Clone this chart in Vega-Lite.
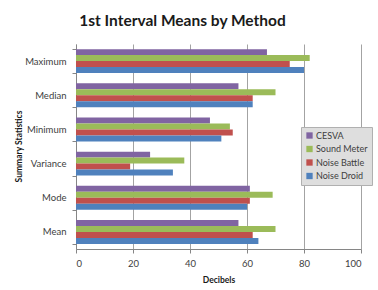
{
  "$schema": "https://vega.github.io/schema/vega-lite/v6.json",
  "width": 285,
  "height": 205,
  "autosize": "none",
  "padding": {"left": 76, "top": 44, "right": 17, "bottom": 41},
  "background": "white",
  "title": {
    "text": "1st Interval Means by Method",
    "font": "Lato",
    "fontSize": 15.5,
    "fontWeight": "bold",
    "color": "#1a1a1a",
    "anchor": "middle",
    "dx": -36,
    "offset": 10
  },
  "data": {
    "values": [
      {"stat": "Maximum", "method": "CESVA", "value": 67},
      {"stat": "Maximum", "method": "Sound Meter", "value": 82},
      {"stat": "Maximum", "method": "Noise Battle", "value": 75},
      {"stat": "Maximum", "method": "Noise Droid", "value": 80},
      {"stat": "Median", "method": "CESVA", "value": 57},
      {"stat": "Median", "method": "Sound Meter", "value": 70},
      {"stat": "Median", "method": "Noise Battle", "value": 62},
      {"stat": "Median", "method": "Noise Droid", "value": 62},
      {"stat": "Minimum", "method": "CESVA", "value": 47},
      {"stat": "Minimum", "method": "Sound Meter", "value": 54},
      {"stat": "Minimum", "method": "Noise Battle", "value": 55},
      {"stat": "Minimum", "method": "Noise Droid", "value": 51},
      {"stat": "Variance", "method": "CESVA", "value": 26},
      {"stat": "Variance", "method": "Sound Meter", "value": 38},
      {"stat": "Variance", "method": "Noise Battle", "value": 19},
      {"stat": "Variance", "method": "Noise Droid", "value": 34},
      {"stat": "Mode", "method": "CESVA", "value": 61},
      {"stat": "Mode", "method": "Sound Meter", "value": 69},
      {"stat": "Mode", "method": "Noise Battle", "value": 61},
      {"stat": "Mode", "method": "Noise Droid", "value": 60},
      {"stat": "Mean", "method": "CESVA", "value": 57},
      {"stat": "Mean", "method": "Sound Meter", "value": 70},
      {"stat": "Mean", "method": "Noise Battle", "value": 62},
      {"stat": "Mean", "method": "Noise Droid", "value": 64}
    ]
  },
  "mark": {"type": "bar", "cornerRadius": 0},
  "encoding": {
    "y": {
      "field": "stat",
      "type": "nominal",
      "sort": ["Maximum", "Median", "Minimum", "Variance", "Mode", "Mean"],
      "scale": {"paddingInner": 0.3, "paddingOuter": 0.15},
      "axis": {
        "title": "Summary Statistics",
        "titleFont": "Lato",
        "titleFontSize": 8.5,
        "titleFontWeight": "bold",
        "titleColor": "#1a1a1a",
        "titleX": -58,
        "titleY": 102,
        "titleAngle": -90,
        "titleBaseline": "middle",
        "labelFont": "Lato",
        "labelFontSize": 9.5,
        "labelColor": "#404040",
        "labelPadding": 6,
        "tickBand": "extent",
        "tickSize": 4,
        "tickColor": "#868686",
        "domainColor": "#868686",
        "grid": false
      }
    },
    "yOffset": {
      "field": "method",
      "type": "nominal",
      "sort": ["CESVA", "Sound Meter", "Noise Battle", "Noise Droid"],
      "scale": {"paddingInner": 0, "paddingOuter": 0}
    },
    "x": {
      "field": "value",
      "type": "quantitative",
      "scale": {"domain": [0, 100], "nice": false},
      "axis": {
        "title": "Decibels",
        "titleFont": "Lato",
        "titleFontSize": 8.5,
        "titleFontWeight": "bold",
        "titleColor": "#1a1a1a",
        "titlePadding": 8,
        "values": [0, 20, 40, 60, 80, 100],
        "labelFont": "Lato",
        "labelFontSize": 9.5,
        "labelColor": "#404040",
        "labelPadding": 5,
        "tickSize": 4,
        "tickColor": "#868686",
        "domainColor": "#868686",
        "grid": true,
        "gridColor": "#8c8c8c",
        "gridWidth": 0.8
      }
    },
    "color": {
      "field": "method",
      "type": "nominal",
      "scale": {
        "domain": ["CESVA", "Sound Meter", "Noise Battle", "Noise Droid"],
        "range": ["#8064A2", "#9BBB59", "#C0504D", "#4F81BD"]
      },
      "legend": {
        "title": null,
        "orient": "none",
        "legendX": 225,
        "legendY": 83,
        "symbolType": "square",
        "symbolSize": 40,
        "symbolStrokeWidth": 0,
        "labelFont": "Lato",
        "labelFontSize": 9,
        "labelColor": "#404040",
        "labelOffset": 2,
        "rowPadding": 3.5,
        "padding": 4,
        "fillColor": "#dedede",
        "strokeColor": "#b0b0b0"
      }
    }
  },
  "config": {
    "view": {"stroke": null}
  }
}
